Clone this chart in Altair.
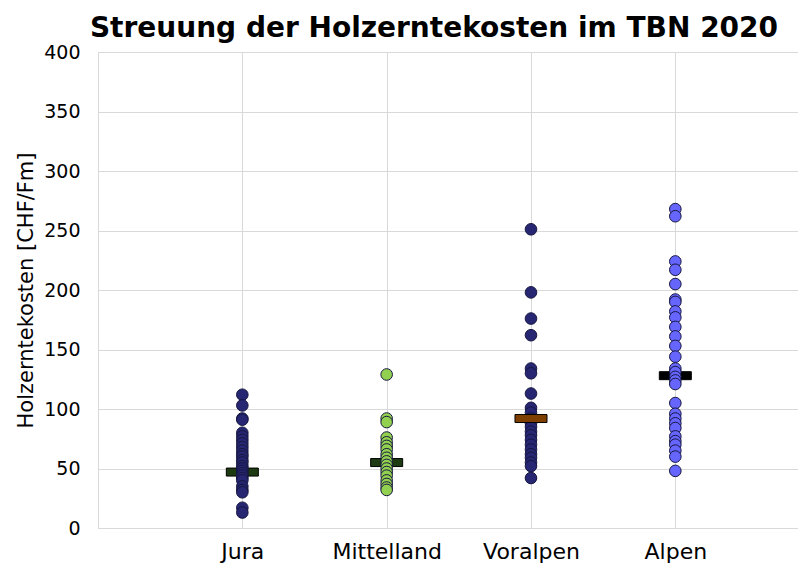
import altair as alt
import pandas as pd

regions = ["Jura", "Mittelland", "Voralpen", "Alpen"]
jura = [112, 103, 92, 91, 80, 77, 74, 71, 68, 65, 62, 60, 57, 55, 52, 50, 48, 46, 44, 42, 40, 35, 32, 30, 17, 13]
mittelland = [129, 92, 89, 76, 72, 69, 66, 62, 59, 56, 53, 50, 47, 44, 40, 37, 34, 32]
voralpen = [251, 198, 176, 162, 134, 130, 113, 101, 97, 92, 88, 85, 81, 78, 74, 70, 66, 62, 59, 55, 52, 42]
alpen = [268, 262, 224, 217, 205, 192, 190, 182, 177, 169, 161, 153, 144, 134, 131, 127, 124, 121,
         105, 96, 92, 88, 84, 77, 73, 70, 65, 60, 48]
medians = [47, 55, 92, 128]
title_text = "Streuung der Holzerntekosten im TBN 2020"

point_fill = ["#262673", "#92d050", "#262673", "#6666ff"]
median_fill = ["#1e3a12", "#1e3a12", "#7f3f00", "#000000"]
y_ticks = [0, 50, 100, 150, 200, 250, 300, 350, 400]

rows = []
for i, (name, vals) in enumerate(zip(regions, [jura, mittelland, voralpen, alpen])):
    for v in vals:
        rows.append({"pos": i + 1, "region": name, "cost": v})
points_df = pd.DataFrame(rows)
med_df = pd.DataFrame({"pos": [1, 2, 3, 4], "region": regions, "median": medians})

label_expr = " : ".join(
    [f"datum.value == {i + 1} ? '{r}'" for i, r in enumerate(regions)]
) + " : ''"

FONT = "DejaVu Sans"

x_enc = alt.X(
    "pos:Q",
    scale=alt.Scale(domain=[0, 4.85], nice=False, zero=False),
    axis=alt.Axis(
        values=[1, 2, 3, 4], labelExpr=label_expr, title=None, grid=True, ticks=False,
        labelPadding=13, labelFontSize=22, labelFont=FONT, labelColor="#000000",
        domainColor="#d9d9d9", gridColor="#d9d9d9", labelFlush=False,
    ),
)
y_axis = alt.Axis(
    values=y_ticks, title="Holzerntekosten [CHF/Fm]", grid=True, ticks=False,
    labelPadding=18, labelFontSize=19, labelFont=FONT, labelColor="#000000",
    titleFont=FONT, titleFontSize=21, titleFontWeight="normal", titleColor="#000000",
    titleX=-72, titleY=238, titleAlign="center", titleBaseline="middle", titleAngle=270,
    domainColor="#d9d9d9", gridColor="#d9d9d9",
)
y_scale = alt.Scale(domain=[0, 400], nice=False)

dash_shape = "M-1,-0.25L1,-0.25L1,0.25L-1,0.25Z"

med_base = alt.Chart(med_df).mark_point(
    shape=dash_shape, size=1024, filled=True, opacity=1, stroke="#000000", strokeWidth=1
).encode(
    x=x_enc,
    y=alt.Y("median:Q", scale=y_scale, axis=y_axis),
    fill=alt.Fill("region:N", scale=alt.Scale(domain=regions, range=median_fill), legend=None),
)
med_under = med_base.transform_filter("datum.region != 'Voralpen'")
med_over = med_base.transform_filter("datum.region == 'Voralpen'")

pts = alt.Chart(points_df).mark_circle(
    size=135, opacity=1, stroke="#161640", strokeWidth=1
).encode(
    x=x_enc,
    y=alt.Y("cost:Q", scale=y_scale, axis=y_axis),
    color=alt.Color("region:N", scale=alt.Scale(domain=regions, range=point_fill), legend=None),
)

title_mark = alt.Chart(pd.DataFrame({"t": [title_text]})).mark_text(
    font=FONT, fontSize=28, fontWeight="bold", color="#000000",
    align="center", baseline="alphabetic",
).encode(text="t:N", x=alt.value(336), y=alt.value(-15))

chart = alt.layer(med_under, pts, med_over, title_mark).properties(
    width=700,
    height=476,
    autosize=alt.AutoSizeParams(type="none"),
    padding={"left": 90, "top": 44, "right": 0, "bottom": 41},
).configure_view(stroke=None).configure(background="#ffffff")

chart.save("out.html", embed_options={"renderer": "svg", "actions": False})
